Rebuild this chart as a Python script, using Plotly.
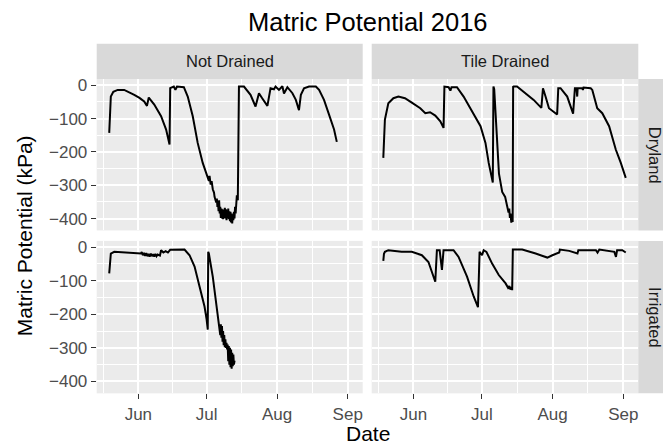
import plotly.graph_objects as go

# ---------------------------------------------------------------
# Matric potential (kPa) readings, 2016, one series per facet
# ---------------------------------------------------------------

# Not Drained / Dryland
nd_dry_time = [
    "2016-05-19 05:00", "2016-05-19 14:00", "2016-05-19 22:00", "2016-05-21 00:00",
    "2016-05-22 22:00", "2016-05-25 19:00", "2016-05-28 12:00", "2016-05-30 05:00",
    "2016-06-01 12:00", "2016-06-03 14:00", "2016-06-04 19:00", "2016-06-05 07:00",
    "2016-06-05 14:00", "2016-06-08 00:00", "2016-06-11 00:00", "2016-06-13 05:00",
    "2016-06-14 17:00", "2016-06-15 00:00", "2016-06-16 14:00", "2016-06-17 07:00",
    "2016-06-18 00:00", "2016-06-21 00:00", "2016-06-22 17:00", "2016-06-24 22:00",
    "2016-06-27 02:00", "2016-06-29 07:00", "2016-07-01 12:00", "2016-07-02 00:00",
    "2016-07-02 07:00", "2016-07-02 19:00", "2016-07-03 05:00", "2016-07-03 17:00",
    "2016-07-04 06:00", "2016-07-04 12:00", "2016-07-05 05:00", "2016-07-05 12:00",
    "2016-07-05 18:00", "2016-07-06 00:00", "2016-07-06 06:00", "2016-07-06 12:00",
    "2016-07-06 18:00", "2016-07-07 00:00", "2016-07-07 06:00", "2016-07-07 12:00",
    "2016-07-07 18:00", "2016-07-08 00:00", "2016-07-08 06:00", "2016-07-08 12:00",
    "2016-07-08 18:00", "2016-07-09 00:00", "2016-07-09 06:00", "2016-07-09 12:00",
    "2016-07-09 18:00", "2016-07-10 00:00", "2016-07-10 06:00", "2016-07-10 12:00",
    "2016-07-10 18:00", "2016-07-11 00:00", "2016-07-11 06:00", "2016-07-11 12:00",
    "2016-07-11 18:00", "2016-07-12 00:00", "2016-07-12 06:00", "2016-07-12 12:00",
    "2016-07-12 18:00", "2016-07-13 00:00", "2016-07-13 06:00", "2016-07-13 12:00",
    "2016-07-13 18:00", "2016-07-14 00:00", "2016-07-14 07:00", "2016-07-14 17:00",
    "2016-07-14 22:00", "2016-07-15 05:00", "2016-07-17 10:00", "2016-07-20 07:00",
    "2016-07-22 12:00", "2016-07-24 00:00", "2016-07-25 10:00", "2016-07-27 17:00",
    "2016-07-29 02:00", "2016-07-30 14:00", "2016-07-31 07:00", "2016-08-01 19:00",
    "2016-08-03 07:00", "2016-08-04 00:00", "2016-08-05 12:00", "2016-08-07 17:00",
    "2016-08-09 05:00", "2016-08-10 14:00", "2016-08-11 10:00", "2016-08-12 19:00",
    "2016-08-15 00:00", "2016-08-18 00:00", "2016-08-19 10:00", "2016-08-21 14:00",
    "2016-08-23 19:00", "2016-08-26 00:00", "2016-08-27 05:00",
]
nd_dry_kpa = [
    -143, -60, -34, -20,
    -14, -14, -22, -29,
    -38, -49, -62, -42,
    -37, -58, -93, -133,
    -178, -9, -4, -14,
    -4, -6, -34, -93,
    -173, -233, -273, -287,
    -272, -298, -288, -312,
    -322, -335, -352, -340,
    -365, -350, -378, -345,
    -385, -365, -398, -370,
    -400, -372, -402, -375,
    -398, -368, -400, -372,
    -405, -375, -398, -370,
    -402, -378, -408, -380,
    -412, -385, -415, -388,
    -405, -380, -400, -365,
    -385, -340, -330, -345,
    -5, -4, -4, -29,
    -64, -24, -39, -62,
    -9, -12, -4, -14,
    -3, -25, -6, -24,
    -44, -75, -29, -9,
    -4, -4, -14, -44,
    -88, -133, -170,
]

# Tile Drained / Dryland
td_dry_time = [
    "2016-05-18 19:00", "2016-05-19 02:00", "2016-05-19 12:00", "2016-05-21 00:00",
    "2016-05-23 05:00", "2016-05-25 10:00", "2016-05-28 07:00", "2016-05-31 07:00",
    "2016-06-04 00:00", "2016-06-06 05:00", "2016-06-08 07:00", "2016-06-10 14:00",
    "2016-06-12 19:00", "2016-06-14 05:00", "2016-06-14 14:00", "2016-06-16 10:00",
    "2016-06-17 05:00", "2016-06-17 17:00", "2016-06-20 02:00", "2016-06-23 00:00",
    "2016-06-26 17:00", "2016-06-30 10:00", "2016-07-02 14:00", "2016-07-04 00:00",
    "2016-07-05 19:00", "2016-07-06 02:00", "2016-07-06 10:00", "2016-07-07 12:00",
    "2016-07-08 12:00", "2016-07-09 22:00", "2016-07-11 05:00", "2016-07-12 00:00",
    "2016-07-12 17:00", "2016-07-13 00:00", "2016-07-13 07:00", "2016-07-13 14:00",
    "2016-07-13 22:00", "2016-07-14 05:00", "2016-07-14 12:00", "2016-07-14 17:00",
    "2016-07-14 22:00", "2016-07-16 10:00", "2016-07-20 00:00", "2016-07-23 17:00",
    "2016-07-27 02:00", "2016-07-27 19:00", "2016-07-28 22:00", "2016-07-30 10:00",
    "2016-08-03 00:00", "2016-08-03 12:00", "2016-08-04 12:00", "2016-08-07 10:00",
    "2016-08-10 00:00", "2016-08-10 19:00", "2016-08-11 12:00", "2016-08-11 19:00",
    "2016-08-12 00:00", "2016-08-14 00:00", "2016-08-14 07:00", "2016-08-14 14:00",
    "2016-08-17 17:00", "2016-08-18 10:00", "2016-08-20 14:00", "2016-08-22 19:00",
    "2016-08-25 19:00", "2016-08-28 17:00", "2016-08-30 22:00", "2016-09-02 02:00",
]
td_dry_kpa = [
    -218, -150, -103, -54,
    -39, -34, -39, -52,
    -69, -84, -81, -91,
    -108, -128, -4, -6,
    -16, -6, -6, -34,
    -78, -123, -173, -233,
    -292, -4, -12, -160,
    -265, -320, -335, -360,
    -382, -370, -398, -385,
    -412, -395, -410, -5,
    -4, -4, -24, -44,
    -68, -9, -34, -69,
    -88, -9, -9, -34,
    -85, -9, -9, -34,
    -9, -9, -14, -7,
    -9, -14, -69, -84,
    -123, -193, -233, -278,
]

# Not Drained / Irrigated
nd_irr_time = [
    "2016-05-19 05:00", "2016-05-19 14:00", "2016-05-19 22:00", "2016-05-21 10:00",
    "2016-05-28 17:00", "2016-06-02 02:00", "2016-06-02 12:00", "2016-06-03 00:00",
    "2016-06-03 12:00", "2016-06-04 00:00", "2016-06-04 12:00", "2016-06-05 00:00",
    "2016-06-05 12:00", "2016-06-06 00:00", "2016-06-06 12:00", "2016-06-07 00:00",
    "2016-06-07 12:00", "2016-06-08 00:00", "2016-06-08 12:00", "2016-06-09 00:00",
    "2016-06-09 12:00", "2016-06-10 12:00", "2016-06-11 00:00", "2016-06-12 00:00",
    "2016-06-13 00:00", "2016-06-14 00:00", "2016-06-15 00:00", "2016-06-17 00:00",
    "2016-06-21 07:00", "2016-06-23 12:00", "2016-06-25 17:00", "2016-06-27 22:00",
    "2016-06-30 02:00", "2016-07-01 00:00", "2016-07-01 12:00", "2016-07-01 17:00",
    "2016-07-02 00:00", "2016-07-03 17:00", "2016-07-05 05:00", "2016-07-06 17:00",
    "2016-07-07 00:00", "2016-07-07 06:00", "2016-07-07 12:00", "2016-07-07 18:00",
    "2016-07-08 00:00", "2016-07-08 06:00", "2016-07-08 12:00", "2016-07-08 18:00",
    "2016-07-09 00:00", "2016-07-09 06:00", "2016-07-09 12:00", "2016-07-09 18:00",
    "2016-07-10 00:00", "2016-07-10 06:00", "2016-07-10 12:00", "2016-07-10 18:00",
    "2016-07-11 00:00", "2016-07-11 06:00", "2016-07-11 12:00", "2016-07-11 18:00",
    "2016-07-12 00:00", "2016-07-12 06:00", "2016-07-12 12:00", "2016-07-12 18:00",
    "2016-07-13 00:00", "2016-07-13 07:00",
]
nd_irr_kpa = [
    -78, -30, -19, -14,
    -16, -19, -15, -24,
    -17, -26, -18, -27,
    -20, -28, -19, -27,
    -21, -28, -20, -27,
    -22, -25, -9, -16,
    -12, -16, -8, -7,
    -7, -24, -58, -118,
    -177, -215, -246, -14,
    -19, -88, -167, -237,
    -262, -230, -270, -235,
    -282, -250, -292, -262,
    -298, -275, -300, -285,
    -305, -290, -340, -295,
    -350, -300, -358, -305,
    -362, -315, -355, -320,
    -350, -338,
]

# Tile Drained / Irrigated
td_irr_time = [
    "2016-05-18 19:00", "2016-05-19 02:00", "2016-05-19 12:00", "2016-05-21 00:00",
    "2016-05-26 19:00", "2016-05-31 07:00", "2016-06-04 17:00", "2016-06-07 14:00",
    "2016-06-10 14:00", "2016-06-11 07:00", "2016-06-12 12:00", "2016-06-13 12:00",
    "2016-06-14 05:00", "2016-06-18 14:00", "2016-06-20 19:00", "2016-06-24 12:00",
    "2016-06-27 10:00", "2016-06-29 07:00", "2016-06-30 00:00", "2016-07-01 02:00",
    "2016-07-01 19:00", "2016-07-03 00:00", "2016-07-05 12:00", "2016-07-08 10:00",
    "2016-07-11 10:00", "2016-07-12 00:00", "2016-07-12 12:00", "2016-07-13 00:00",
    "2016-07-13 12:00", "2016-07-14 00:00", "2016-07-14 07:00", "2016-07-14 14:00",
    "2016-07-18 17:00", "2016-07-24 14:00", "2016-07-29 17:00", "2016-07-31 22:00",
    "2016-08-03 22:00", "2016-08-04 05:00", "2016-08-08 07:00", "2016-08-11 22:00",
    "2016-08-12 07:00", "2016-08-20 00:00", "2016-08-20 17:00", "2016-08-21 12:00",
    "2016-08-28 02:00", "2016-08-28 19:00", "2016-08-29 07:00", "2016-08-31 14:00",
    "2016-09-02 02:00",
]
td_irr_kpa = [
    -41, -20, -14, -9,
    -14, -14, -24, -44,
    -103, -9, -9, -68,
    -9, -9, -29, -88,
    -147, -179, -14, -24,
    -9, -14, -49, -83,
    -108, -114, -121, -116,
    -126, -119, -128, -7,
    -7, -19, -31, -24,
    -16, -7, -11, -19,
    -9, -9, -16, -7,
    -14, -29, -9, -9,
    -16,
]

# Facet labels and axis ticks
col_labels = ["Not Drained", "Tile Drained"]
row_labels = ["Dryland", "Irrigated"]
x_tick_dates = ["2016-06-01", "2016-07-01", "2016-08-01", "2016-09-01"]
x_tick_text = ["Jun", "Jul", "Aug", "Sep"]
x_minor_dates = ["2016-05-16 12:00", "2016-06-16", "2016-07-16 12:00", "2016-08-16 12:00"]
y_tick_vals = [-400, -300, -200, -100, 0]
y_tick_text = ["\u2212400", "\u2212300", "\u2212200", "\u2212100", "0"]
y_minor_vals = [-350, -250, -150, -50]

# ---------------------------------------------------------------
# Layout geometry (pixels in a 663 x 446 canvas)
# ---------------------------------------------------------------
W, H = 663, 446
col_px = [(96.7, 362.7), (371.7, 638.3)]
row_px = [(76.5, 229.0), (239.5, 393.0)]
strip_top_px = (41.0, 76.5)
strip_right_px = (638.3, 672.0)

def fx(p):
    return p / W

def fy(p):
    return 1 - p / H

x_range = ["2016-05-13 17:00", "2016-09-07 14:00"]
y_range = [-435.7, 18.7]

FONT = "Liberation Sans, Arial, sans-serif"
PANEL_BG = "#EBEBEB"
STRIP_BG = "#D9D9D9"

fig = go.Figure()

series = [
    (nd_dry_time, nd_dry_kpa, 0, 0),
    (td_dry_time, td_dry_kpa, 0, 1),
    (nd_irr_time, nd_irr_kpa, 1, 0),
    (td_irr_time, td_irr_kpa, 1, 1),
]

layout_axes = {}
for i, (t, v, r, c) in enumerate(series):
    n = i + 1
    xa = "x" if n == 1 else f"x{n}"
    ya = "y" if n == 1 else f"y{n}"
    fig.add_trace(go.Scatter(
        x=t, y=v, mode="lines", xaxis=xa, yaxis=ya,
        line=dict(color="black", width=2.0), showlegend=False,
        hoverinfo="skip",
    ))
    x_name = "xaxis" if n == 1 else f"xaxis{n}"
    y_name = "yaxis" if n == 1 else f"yaxis{n}"
    bottom = r == 1
    left = c == 0
    layout_axes[x_name] = dict(
        type="date", range=x_range, anchor=ya,
        domain=[fx(col_px[c][0]), fx(col_px[c][1])],
        tickmode="array", tickvals=x_tick_dates, ticktext=x_tick_text,
        showticklabels=bottom, ticks="outside" if bottom else "",
        ticklen=5, tickwidth=1.2, tickcolor="#333333",
        tickfont=dict(family=FONT, size=17, color="#4D4D4D"),
        showgrid=True, gridcolor="white", gridwidth=1.8,
        minor=dict(tickmode="array", tickvals=x_minor_dates,
                   showgrid=True, gridcolor="white", gridwidth=0.9, ticks=""),
        zeroline=False, showline=False, fixedrange=True,
    )
    layout_axes[y_name] = dict(
        range=y_range, anchor=xa,
        domain=[fy(row_px[r][1]), fy(row_px[r][0])],
        tickmode="array", tickvals=y_tick_vals, ticktext=y_tick_text,
        showticklabels=left, ticks="outside" if left else "",
        ticklen=5, tickwidth=1.2, tickcolor="#333333",
        tickfont=dict(family=FONT, size=17, color="#4D4D4D"),
        showgrid=True, gridcolor="white", gridwidth=1.8,
        minor=dict(tickmode="array", tickvals=y_minor_vals,
                   showgrid=True, gridcolor="white", gridwidth=0.9, ticks=""),
        zeroline=False, showline=False, fixedrange=True,
    )

shapes = []
annotations = []

# Column strips along the top
for c, label in enumerate(col_labels):
    x0, x1 = col_px[c]
    shapes.append(dict(type="rect", xref="paper", yref="paper",
                       x0=fx(x0), x1=fx(x1), y0=fy(strip_top_px[1]), y1=fy(strip_top_px[0]),
                       fillcolor=STRIP_BG, line=dict(width=0), layer="below"))
    annotations.append(dict(text=label, xref="paper", yref="paper",
                            x=fx((x0 + x1) / 2), y=fy(sum(strip_top_px) / 2),
                            xanchor="center", yanchor="middle", showarrow=False,
                            font=dict(family=FONT, size=16.5, color="#1A1A1A")))

# Row strips on the right
for r, label in enumerate(row_labels):
    y0, y1 = row_px[r]
    shapes.append(dict(type="rect", xref="paper", yref="paper",
                       x0=fx(strip_right_px[0]), x1=fx(strip_right_px[1]),
                       y0=fy(y1), y1=fy(y0),
                       fillcolor=STRIP_BG, line=dict(width=0), layer="below"))
    annotations.append(dict(text=label, xref="paper", yref="paper",
                            x=fx(655.0), y=fy((y0 + y1) / 2), textangle=90,
                            xanchor="center", yanchor="middle", showarrow=False,
                            font=dict(family=FONT, size=16.5, color="#1A1A1A")))

panel_mid_x = (col_px[0][0] + col_px[1][1]) / 2
panel_mid_y = (row_px[0][0] + row_px[1][1]) / 2

# Title and axis titles
annotations.append(dict(text="Matric Potential 2016", xref="paper", yref="paper",
                        x=fx(panel_mid_x), y=fy(19.5), xanchor="center", yanchor="middle",
                        showarrow=False, font=dict(family=FONT, size=25.5, color="black")))
annotations.append(dict(text="Date", xref="paper", yref="paper",
                        x=fx(panel_mid_x), y=fy(433.0), xanchor="center", yanchor="middle",
                        showarrow=False, font=dict(family=FONT, size=21, color="black")))
annotations.append(dict(text="Matric Potential (kPa)", xref="paper", yref="paper",
                        x=fx(24.0), y=fy(panel_mid_y), textangle=-90,
                        xanchor="center", yanchor="middle",
                        showarrow=False, font=dict(family=FONT, size=21, color="black")))

fig.update_layout(
    width=W, height=H,
    margin=dict(l=0, r=0, t=0, b=0),
    paper_bgcolor="white", plot_bgcolor=PANEL_BG,
    shapes=shapes, annotations=annotations,
    font=dict(family=FONT),
    **layout_axes,
)

fig.write_html("out.html", config={"displayModeBar": False})
